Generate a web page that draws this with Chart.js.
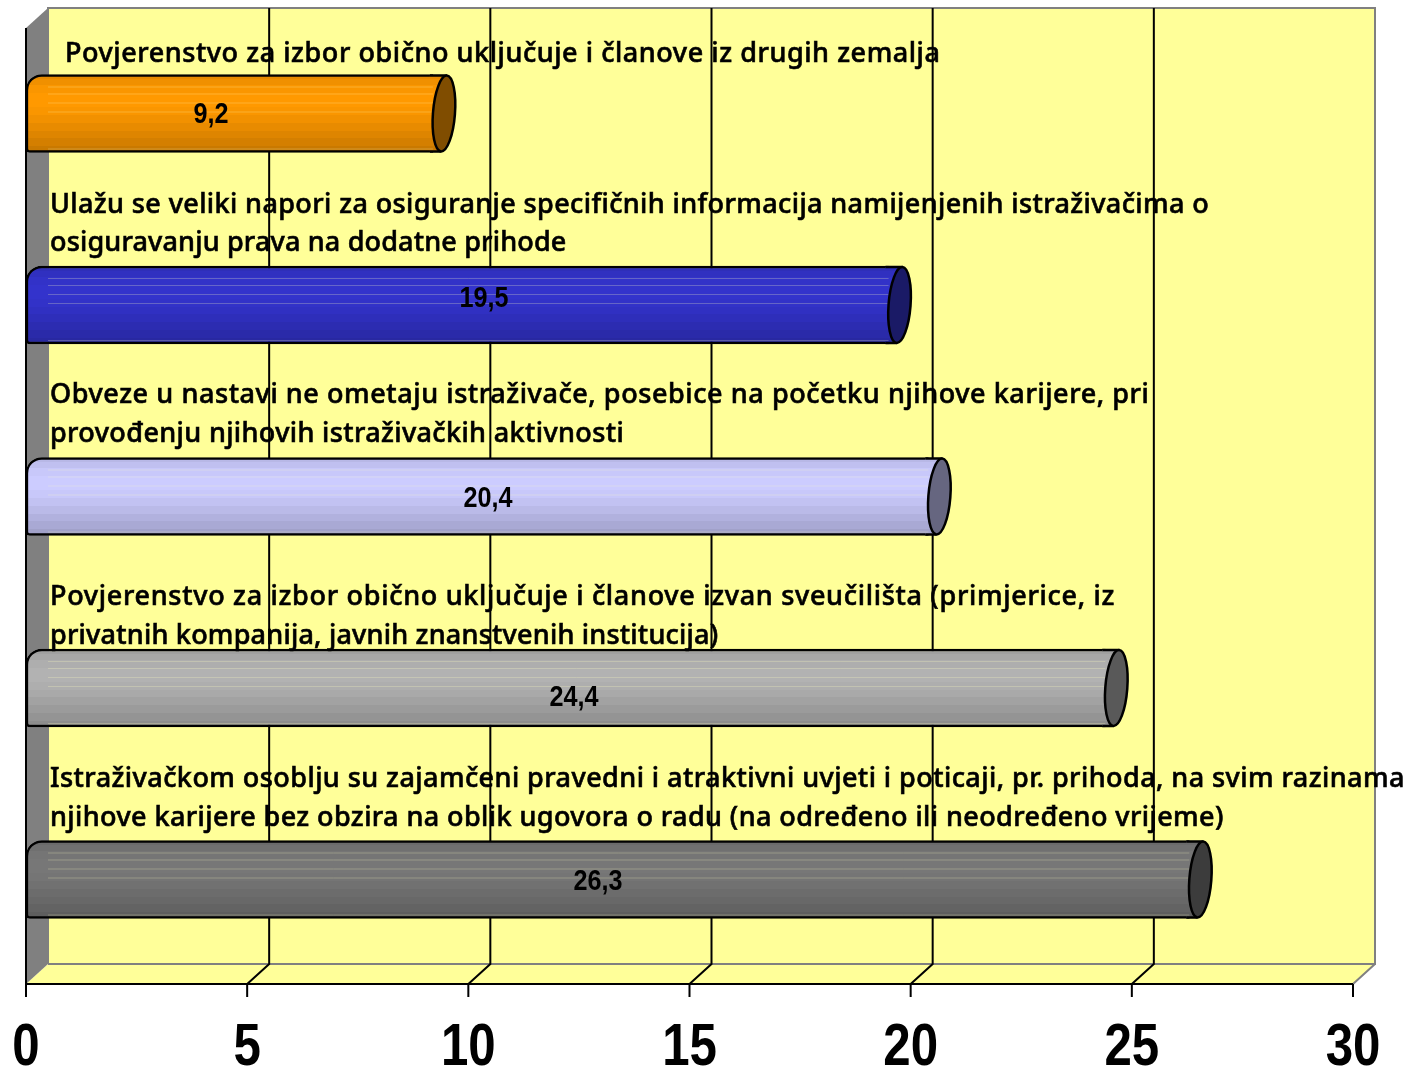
<!DOCTYPE html>
<html>
<head>
<meta charset="utf-8">
<title>Povjerenstvo</title>
<script src="https://cdn.jsdelivr.net/npm/chart.js@4/dist/chart.umd.min.js"></script>
<style>
    html, body { margin: 0; padding: 0; background: #fff; }
    canvas { display: block; }
</style>
</head>
<body>
<canvas id="chart" width="1406" height="1071"></canvas>
<script>
// values, top bar first
const categories = [
    'Povjerenstvo za izbor obično uključuje i članove iz drugih zemalja',
    'Ulažu se veliki napori za osiguranje specifičnih informacija namijenjenih istraživačima o osiguravanju prava na dodatne prihode',
    'Obveze u nastavi ne ometaju istraživače, posebice na početku njihove karijere, pri provođenju njihovih istraživačkih aktivnosti',
    'Povjerenstvo za izbor obično uključuje i članove izvan sveučilišta (primjerice, iz privatnih kompanija, javnih znanstvenih institucija)',
    'Istraživačkom osoblju su zajamčeni pravedni i atraktivni uvjeti i poticaji, pr. prihoda, na svim razinama njihove karijere bez obzira na oblik ugovora o radu (na određeno ili neodređeno vrijeme)'
];
const values = [9.2, 19.5, 20.4, 24.4, 26.3];
const valueLabels = ['9,2', '19,5', '20,4', '24,4', '26,3'];
const axisTicks = [0, 5, 10, 15, 20, 25, 30];

// how the category text is wrapped in the picture
const labelLines = [
    ['Povjerenstvo za izbor obično uključuje i članove iz drugih zemalja'],
    ['Ulažu se veliki napori za osiguranje specifičnih informacija namijenjenih istraživačima o', 'osiguravanju prava na dodatne prihode'],
    ['Obveze u nastavi ne ometaju istraživače, posebice na početku njihove karijere, pri', 'provođenju njihovih istraživačkih aktivnosti'],
    ['Povjerenstvo za izbor obično uključuje i članove izvan sveučilišta (primjerice, iz', 'privatnih kompanija, javnih znanstvenih institucija)'],
    ['Istraživačkom osoblju su zajamčeni pravedni i atraktivni uvjeti i poticaji, pr. prihoda, na svim razinama', 'njihove karijere bez obzira na oblik ugovora o radu (na određeno ili neodređeno vrijeme)']
];

const barColors = [[255, 153, 0], [51, 51, 204], [204, 204, 255], [178, 178, 178], [119, 119, 119]];

// label placement relative to each bar
const labelX = [65, 50, 50, 50, 50];
const labelGap = [21.5, 23.5, 24.5, 14, 23.5];
const labelSpacing = [[0.56], [0.39, 0.17], [0.58, 0.37], [0.7, 0.22], [0.44, 0.41]];
const valueX = [211, 484, 488, 574, 598];
const valueDy = [1, -6, 2, 10, 2];

const DEPTH_X = 22;
const DEPTH_Y = 20;
const FLOOR_Y = 984;
const WALL_TOP = 8;
const BAR_H = 78;
const CAP_RX = 11;
const WALL_COLOR = '#ffff99';
const EDGE_GRAY = '#808080';
const TEXT_FONT = '500 27px "Noto Sans"';
const VALUE_FONT = 'bold 30px "Liberation Sans"';
const VALUE_SQUEEZE = 0.84;
const TICK_FONT = 'bold 60px "Liberation Sans"';
const TICK_SQUEEZE = 0.82;
const TICK_Y = 1048;

// stepped shading of a cylinder, [offset, brightness]
const shadeSteps = [
    [0, 0.9], [0.06, 0.94], [0.14, 0.98], [0.24, 1], [0.42, 0.98], [0.52, 0.95],
    [0.62, 0.91], [0.72, 0.87], [0.82, 0.83], [0.92, 0.79]
];

function rgb(c, f) {
    return `rgb(${Math.round(c[0] * f)}, ${Math.round(c[1] * f)}, ${Math.round(c[2] * f)})`;
}

function barGradient(chart, index) {
    const y = chart.scales.y.getPixelForValue(index);
    const g = chart.ctx.createLinearGradient(0, y - BAR_H / 2, 0, y + BAR_H / 2);
    shadeSteps.forEach((s, i) => {
        const next = i + 1 < shadeSteps.length ? shadeSteps[i + 1][0] : 1;
        g.addColorStop(s[0], rgb(barColors[index], s[1]));
        g.addColorStop(next, rgb(barColors[index], s[1]));
    });
    return g;
}

// condensed bold digits, there is no narrow face to pick
function squeezedText(ctx, text, x, y, squeeze) {
    ctx.save();
    ctx.translate(x, y);
    ctx.scale(squeeze, 1);
    ctx.fillText(text, 0, 0);
    ctx.restore();
}

const cylinderPlugin = {
    id: 'cylinder',
    beforeDatasetsDraw(chart) {
        const ctx = chart.ctx;
        const xs = chart.scales.x;
        const x0 = xs.getPixelForValue(axisTicks[0]);
        const x1 = xs.getPixelForValue(axisTicks[axisTicks.length - 1]);
        const wallBottom = FLOOR_Y - DEPTH_Y;

        ctx.save();
        // back wall
        ctx.fillStyle = WALL_COLOR;
        ctx.fillRect(x0 + DEPTH_X, WALL_TOP, x1 - x0, wallBottom - WALL_TOP);

        // floor
        ctx.beginPath();
        ctx.moveTo(x0, FLOOR_Y);
        ctx.lineTo(x0 + DEPTH_X, wallBottom);
        ctx.lineTo(x1 + DEPTH_X, wallBottom);
        ctx.lineTo(x1, FLOOR_Y);
        ctx.closePath();
        ctx.fill();

        // left side wall
        ctx.fillStyle = EDGE_GRAY;
        ctx.beginPath();
        ctx.moveTo(x0, WALL_TOP + DEPTH_Y);
        ctx.lineTo(x0 + DEPTH_X, WALL_TOP);
        ctx.lineTo(x0 + DEPTH_X, wallBottom);
        ctx.lineTo(x0, FLOOR_Y);
        ctx.closePath();
        ctx.fill();

        // wall edges
        ctx.strokeStyle = EDGE_GRAY;
        ctx.lineWidth = 2;
        ctx.beginPath();
        ctx.moveTo(x0 + DEPTH_X, wallBottom);
        ctx.lineTo(x0 + DEPTH_X, WALL_TOP);
        ctx.lineTo(x1 + DEPTH_X, WALL_TOP);
        ctx.lineTo(x1 + DEPTH_X, wallBottom);
        ctx.lineTo(x0 + DEPTH_X, wallBottom);
        ctx.moveTo(x1 + DEPTH_X, wallBottom);
        ctx.lineTo(x1, FLOOR_Y);
        ctx.stroke();

        // grid lines, their slant over the floor and the ticks
        ctx.strokeStyle = '#000';
        ctx.fillStyle = '#000';
        ctx.font = TICK_FONT;
        ctx.textAlign = 'center';
        ctx.textBaseline = 'middle';
        axisTicks.forEach(v => {
            const x = xs.getPixelForValue(v);
            ctx.beginPath();
            if (v > axisTicks[0] && v < axisTicks[axisTicks.length - 1]) {
                ctx.moveTo(x + DEPTH_X, WALL_TOP);
                ctx.lineTo(x + DEPTH_X, wallBottom);
                ctx.lineTo(x, FLOOR_Y);
            }
            ctx.moveTo(x, FLOOR_Y);
            ctx.lineTo(x, FLOOR_Y + 13);
            ctx.stroke();
            squeezedText(ctx, String(v), x, TICK_Y, TICK_SQUEEZE);
        });

        // axis lines
        ctx.beginPath();
        ctx.moveTo(x0, WALL_TOP + DEPTH_Y);
        ctx.lineTo(x0, FLOOR_Y);
        ctx.lineTo(x1, FLOOR_Y);
        ctx.stroke();
        ctx.restore();
    },
    afterDatasetsDraw(chart) {
        const ctx = chart.ctx;
        const xs = chart.scales.x;
        const ys = chart.scales.y;
        const wallX = xs.getPixelForValue(0) + DEPTH_X;

        ctx.save();
        values.forEach((v, i) => {
            const end = xs.getPixelForValue(v);
            const cy = ys.getPixelForValue(i);
            const top = cy - BAR_H / 2 + 1;
            const bottom = cy + BAR_H / 2 - 1;
            const topX = end + CAP_RX + 3;
            const bottomX = end + CAP_RX - 3;

            // rest of the body, out to the end cap
            ctx.fillStyle = barGradient(chart, i);
            ctx.beginPath();
            ctx.moveTo(end - 3, top);
            ctx.lineTo(topX, top);
            ctx.lineTo(bottomX, bottom);
            ctx.lineTo(end - 3, bottom);
            ctx.closePath();
            ctx.fill();

            // thin highlights along the body
            ctx.strokeStyle = 'rgba(255, 255, 190, 0.25)';
            ctx.lineWidth = 1;
            [11, 18, 27, 36, 73].forEach(dy => {
                ctx.beginPath();
                ctx.moveTo(wallX, top + dy + 0.5);
                ctx.lineTo(end, top + dy + 0.5);
                ctx.stroke();
            });

            ctx.strokeStyle = '#000';
            ctx.lineWidth = 2.5;
            ctx.beginPath();
            ctx.moveTo(end - 3, top);
            ctx.lineTo(topX, top);
            ctx.moveTo(end - 3, bottom);
            ctx.lineTo(bottomX, bottom);
            ctx.stroke();

            // end cap
            ctx.fillStyle = rgb(barColors[i], 0.5);
            ctx.beginPath();
            ctx.ellipse(end + CAP_RX, cy, CAP_RX, BAR_H / 2 - 1, 0.077, 0, Math.PI * 2);
            ctx.fill();
            ctx.stroke();

            // value inside the bar
            ctx.fillStyle = '#000';
            ctx.font = VALUE_FONT;
            ctx.textAlign = 'center';
            ctx.textBaseline = 'middle';
            squeezedText(ctx, valueLabels[i], valueX[i], cy + valueDy[i], VALUE_SQUEEZE);

            // category text above the bar, thickened with a light stroke
            ctx.font = TEXT_FONT;
            ctx.textAlign = 'left';
            ctx.lineWidth = 0.6;
            const lines = labelLines[i];
            lines.forEach((line, n) => {
                const lineY = top - labelGap[i] - (lines.length - 1 - n) * 38.5;
                ctx.letterSpacing = labelSpacing[i][n] + 'px';
                ctx.fillText(line, labelX[i], lineY);
                ctx.strokeText(line, labelX[i], lineY);
            });
            ctx.letterSpacing = '0px';
        });
        ctx.restore();
    }
};

new Chart(document.getElementById('chart'), {
    type: 'bar',
    plugins: [cylinderPlugin],
    data: {
        labels: categories,
        datasets: [{
            data: values,
            barThickness: BAR_H,
            borderColor: '#000',
            borderWidth: 2.5,
            borderSkipped: false,
            borderRadius: { topLeft: 16, bottomLeft: 4, topRight: 0, bottomRight: 0 },
            backgroundColor: function(context) {
                if (!context.chart.chartArea) return '#888';
                return barGradient(context.chart, context.dataIndex);
            }
        }]
    },
    options: {
        indexAxis: 'y',
        responsive: false,
        animation: false,
        layout: { padding: { left: 26, right: 53, top: 17.75, bottom: 0 } },
        plugins: { legend: { display: false }, tooltip: { enabled: false } },
        scales: {
            x: {
                min: axisTicks[0],
                max: axisTicks[axisTicks.length - 1],
                grid: { display: false },
                border: { display: false },
                afterFit: function(scale) { scale.height = 95.75; },
                ticks: { display: false, stepSize: 5 }
            },
            y: { display: false }
        }
    }
});
</script>
</body>
</html>
